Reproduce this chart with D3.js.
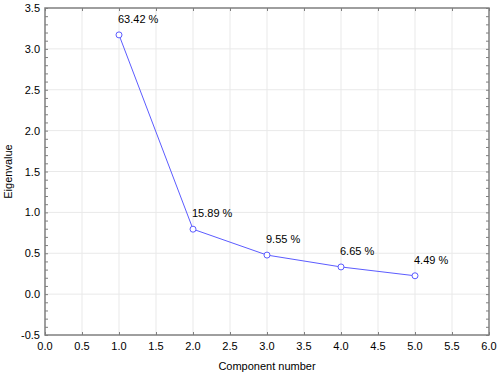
<!DOCTYPE html>
<html>
<head>
<meta charset="utf-8">
<script src="https://cdn.jsdelivr.net/npm/d3@7"></script>
<style>
  body { margin: 0; background: #fff; }
  svg { display: block; font-family: "Liberation Sans", Arial, sans-serif; }
</style>
</head>
<body>
<svg id="chart" width="500" height="375"></svg>
<script>
// scree plot data
var components = [1, 2, 3, 4, 5];
var eigenvalues = [3.171, 0.7945, 0.4775, 0.3325, 0.2245];
var percentLabels = ["63.42 %", "15.89 %", "9.55 %", "6.65 %", "4.49 %"];
var xTicks = [0, 0.5, 1, 1.5, 2, 2.5, 3, 3.5, 4, 4.5, 5, 5.5, 6];
var yTicks = [-0.5, 0, 0.5, 1, 1.5, 2, 2.5, 3, 3.5];

var svg = d3.select("#chart"),
    margin = {top: 8, right: 11, bottom: 40, left: 45},
    width = 500 - margin.left - margin.right,
    height = 375 - margin.top - margin.bottom;

var g = svg.append("g").attr("transform", "translate(" + margin.left + "," + margin.top + ")");

var x = d3.scaleLinear().domain([0, 6]).range([0, width]);
var y = d3.scaleLinear().domain([-0.5, 3.5]).range([height, 0]);
var fmt = function(d) { return d.toFixed(1); }; // plain hyphen for negatives

// grid
g.selectAll(".vgrid").data(xTicks.slice(1, -1)).enter().append("line")
  .attr("x1", function(d) { return x(d); }).attr("x2", function(d) { return x(d); })
  .attr("y1", 0).attr("y2", height)
  .attr("stroke", "#e9e9e9").attr("stroke-width", 1);
g.selectAll(".hgrid").data(yTicks.slice(1, -1)).enter().append("line")
  .attr("y1", function(d) { return y(d); }).attr("y2", function(d) { return y(d); })
  .attr("x1", 0).attr("x2", width)
  .attr("stroke", "#e9e9e9").attr("stroke-width", 1);

// minor ticks on y (every 0.1), inward on both sides
var minor = d3.range(-5, 36).map(function(i) { return i / 10; });
var axisColor = "#7f7f7f";
g.append("g").call(d3.axisRight(y).tickValues(minor).tickSize(3).tickFormat(""))
  .call(function(s) { s.select(".domain").remove(); s.selectAll("line").attr("stroke", axisColor); });
g.append("g").attr("transform", "translate(" + width + ",0)")
  .call(d3.axisLeft(y).tickValues(minor).tickSize(3).tickFormat(""))
  .call(function(s) { s.select(".domain").remove(); s.selectAll("line").attr("stroke", axisColor); });
// small ticks on x at majors, inward top and bottom
g.append("g").attr("transform", "translate(0," + height + ")")
  .call(d3.axisTop(x).tickValues(xTicks).tickSize(3).tickFormat(""))
  .call(function(s) { s.select(".domain").remove(); s.selectAll("line").attr("stroke", axisColor); });
g.append("g")
  .call(d3.axisBottom(x).tickValues(xTicks).tickSize(3).tickFormat(""))
  .call(function(s) { s.select(".domain").remove(); s.selectAll("line").attr("stroke", axisColor); });

// frame
g.append("rect").attr("x", 0).attr("y", 0).attr("width", width).attr("height", height)
  .attr("fill", "none").attr("stroke", axisColor).attr("stroke-width", 1.5);

// tick labels
g.selectAll(".xlab").data(xTicks).enter().append("text")
  .attr("x", function(d) { return x(d); }).attr("y", height + 15)
  .attr("text-anchor", "middle").attr("font-size", 11).attr("fill", "#000")
  .text(fmt);
g.selectAll(".ylab").data(yTicks).enter().append("text")
  .attr("x", -5).attr("y", function(d) { return y(d) + 4; })
  .attr("text-anchor", "end").attr("font-size", 11).attr("fill", "#000")
  .text(fmt);

// axis titles
svg.append("text").attr("x", margin.left + width / 2).attr("y", 370)
  .attr("text-anchor", "middle").attr("font-size", 11).text("Component number");
svg.append("text").attr("transform", "translate(12," + (margin.top + height / 2) + ") rotate(-90)")
  .attr("text-anchor", "middle").attr("font-size", 11).text("Eigenvalue");

// line + markers
var line = d3.line()
  .x(function(d, i) { return x(components[i]); })
  .y(function(d) { return y(d); });
var blue = "#5c5cff";
g.append("path").datum(eigenvalues).attr("d", line)
  .attr("fill", "none").attr("stroke", blue).attr("stroke-width", 1);
g.selectAll(".pt").data(eigenvalues).enter().append("circle")
  .attr("cx", function(d, i) { return x(components[i]); })
  .attr("cy", function(d) { return y(d); })
  .attr("r", 3).attr("fill", "#fff").attr("stroke", blue).attr("stroke-width", 1);

// percent labels
g.selectAll(".pl").data(eigenvalues).enter().append("text")
  .attr("x", function(d, i) { return x(components[i]) - 1; })
  .attr("y", function(d) { return y(d) - 12; })
  .attr("font-size", 11).attr("fill", "#000")
  .text(function(d, i) { return percentLabels[i]; });
</script>
</body>
</html>
